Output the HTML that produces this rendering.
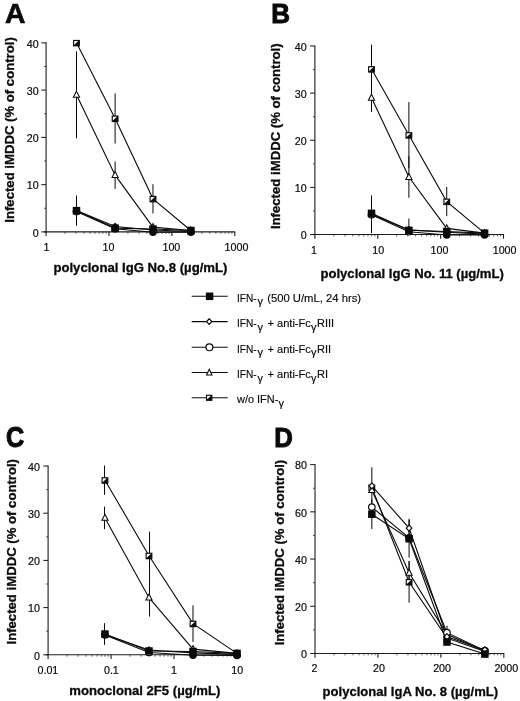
<!DOCTYPE html>
<html lang="en"><head><meta charset="utf-8"><title>Figure</title>
<style>
html,body{margin:0;padding:0;background:#fff}
svg{display:block;font-family:"Liberation Sans",Arial,Helvetica,sans-serif;fill:#0a0a0a}
.tk{stroke:#0a0a0a;stroke-width:0.2}
.bt{stroke:#0a0a0a;stroke-width:0.3}
.lg{stroke:#0a0a0a;stroke-width:0.15}
</style></head>
<body>
<svg width="520" height="701" viewBox="0 0 520 701">
<rect width="520" height="701" fill="#fff" stroke="none"/>
<text transform="translate(4.9 22.9) scale(1.07 1.075)" font-size="26.5" font-weight="700" stroke="#0a0a0a" stroke-width="0.6" stroke-linejoin="miter">A</text>
<path d="M46.1 42.36V232.40" stroke="#1c1c1c" stroke-width="1.1" fill="none"/>
<path d="M43.90 231.90H235.30" stroke="#1c1c1c" stroke-width="1.1" fill="none"/>
<path d="M41.30 231.90H46.1" stroke="#1c1c1c" stroke-width="1.05"/>
<text x="38.6" y="236.70" font-size="10.7" text-anchor="end" class="tk">0</text>
<path d="M41.30 184.64H46.1" stroke="#1c1c1c" stroke-width="1.05"/>
<text x="38.6" y="189.44" font-size="10.7" text-anchor="end" class="tk">10</text>
<path d="M41.30 137.38H46.1" stroke="#1c1c1c" stroke-width="1.05"/>
<text x="38.6" y="142.18" font-size="10.7" text-anchor="end" class="tk">20</text>
<path d="M41.30 90.12H46.1" stroke="#1c1c1c" stroke-width="1.05"/>
<text x="38.6" y="94.92" font-size="10.7" text-anchor="end" class="tk">30</text>
<path d="M41.30 42.86H46.1" stroke="#1c1c1c" stroke-width="1.05"/>
<text x="38.6" y="47.66" font-size="10.7" text-anchor="end" class="tk">40</text>
<path d="M44.20 208.27H46.1" stroke="#1c1c1c" stroke-width="0.8"/>
<path d="M44.20 161.01H46.1" stroke="#1c1c1c" stroke-width="0.8"/>
<path d="M44.20 113.75H46.1" stroke="#1c1c1c" stroke-width="0.8"/>
<path d="M44.20 66.49H46.1" stroke="#1c1c1c" stroke-width="0.8"/>
<path d="M46.10 231.90V236.10" stroke="#1c1c1c" stroke-width="1.1"/>
<text x="46.50" y="250.8" font-size="10.7" text-anchor="middle" class="tk">1</text>
<path d="M65.03 231.90V233.80" stroke="#1c1c1c" stroke-width="0.7"/>
<path d="M76.11 231.90V233.80" stroke="#1c1c1c" stroke-width="0.7"/>
<path d="M83.97 231.90V233.80" stroke="#1c1c1c" stroke-width="0.7"/>
<path d="M90.07 231.90V233.80" stroke="#1c1c1c" stroke-width="0.7"/>
<path d="M95.05 231.90V233.80" stroke="#1c1c1c" stroke-width="0.7"/>
<path d="M99.26 231.90V233.80" stroke="#1c1c1c" stroke-width="0.7"/>
<path d="M102.90 231.90V233.80" stroke="#1c1c1c" stroke-width="0.7"/>
<path d="M106.12 231.90V233.80" stroke="#1c1c1c" stroke-width="0.7"/>
<path d="M109.00 231.90V236.10" stroke="#1c1c1c" stroke-width="1.1"/>
<text x="108.50" y="250.8" font-size="10.7" text-anchor="middle" class="tk">10</text>
<path d="M127.93 231.90V233.80" stroke="#1c1c1c" stroke-width="0.7"/>
<path d="M139.01 231.90V233.80" stroke="#1c1c1c" stroke-width="0.7"/>
<path d="M146.87 231.90V233.80" stroke="#1c1c1c" stroke-width="0.7"/>
<path d="M152.97 231.90V233.80" stroke="#1c1c1c" stroke-width="0.7"/>
<path d="M157.95 231.90V233.80" stroke="#1c1c1c" stroke-width="0.7"/>
<path d="M162.16 231.90V233.80" stroke="#1c1c1c" stroke-width="0.7"/>
<path d="M165.80 231.90V233.80" stroke="#1c1c1c" stroke-width="0.7"/>
<path d="M169.02 231.90V233.80" stroke="#1c1c1c" stroke-width="0.7"/>
<path d="M171.90 231.90V236.10" stroke="#1c1c1c" stroke-width="1.1"/>
<text x="171.40" y="250.8" font-size="10.7" text-anchor="middle" class="tk">100</text>
<path d="M190.83 231.90V233.80" stroke="#1c1c1c" stroke-width="0.7"/>
<path d="M201.91 231.90V233.80" stroke="#1c1c1c" stroke-width="0.7"/>
<path d="M209.77 231.90V233.80" stroke="#1c1c1c" stroke-width="0.7"/>
<path d="M215.87 231.90V233.80" stroke="#1c1c1c" stroke-width="0.7"/>
<path d="M220.85 231.90V233.80" stroke="#1c1c1c" stroke-width="0.7"/>
<path d="M225.06 231.90V233.80" stroke="#1c1c1c" stroke-width="0.7"/>
<path d="M228.70 231.90V233.80" stroke="#1c1c1c" stroke-width="0.7"/>
<path d="M231.92 231.90V233.80" stroke="#1c1c1c" stroke-width="0.7"/>
<path d="M234.80 231.90V236.10" stroke="#1c1c1c" stroke-width="1.1"/>
<text x="236.50" y="250.8" font-size="10.7" text-anchor="middle" class="tk">1000</text>
<text x="53.4" y="272.4" font-size="13.3" font-weight="700" class="bt" textLength="174" lengthAdjust="spacingAndGlyphs">polyclonal IgG No.8 (µg/mL)</text>
<text transform="translate(13.8 222.7) rotate(-90)" font-size="13.3" font-weight="700" class="bt" textLength="185.5" lengthAdjust="spacingAndGlyphs">Infected iMDDC (% of control)</text>
<path d="M76.50 51.37V138.33" stroke="#0a0a0a" stroke-width="1.0"/>
<path d="M115.10 161.48V188.89" stroke="#0a0a0a" stroke-width="1.0"/>
<path d="M115.10 93.43V143.52" stroke="#0a0a0a" stroke-width="1.0"/>
<path d="M152.97 184.17V213.47" stroke="#0a0a0a" stroke-width="1.0"/>
<path d="M76.50 195.51V225.76" stroke="#0a0a0a" stroke-width="1.0"/>
<polyline points="76.47,211.58 115.10,228.83 152.97,232.18 190.83,232.18" fill="none" stroke="#0a0a0a" stroke-width="1.1"/>
<polyline points="76.47,210.40 115.10,226.47 152.97,230.01 190.83,231.43" fill="none" stroke="#0a0a0a" stroke-width="1.1"/>
<polyline points="76.47,94.85 115.10,175.19 152.97,227.17 190.83,230.48" fill="none" stroke="#0a0a0a" stroke-width="1.1"/>
<polyline points="76.47,42.86 115.10,118.48 152.97,198.82 190.83,230.48" fill="none" stroke="#0a0a0a" stroke-width="1.1"/>
<polyline points="76.47,210.63 115.10,228.12 152.97,229.06 190.83,230.48" fill="none" stroke="#0a0a0a" stroke-width="1.1"/>
<circle cx="76.47" cy="211.58" r="3.25" fill="#fff" stroke="#0a0a0a" stroke-width="1.2"/>
<circle cx="115.10" cy="228.83" r="3.25" fill="#fff" stroke="#0a0a0a" stroke-width="1.2"/>
<circle cx="152.97" cy="232.18" r="3.80" fill="#0a0a0a"/>
<circle cx="190.83" cy="232.18" r="3.80" fill="#0a0a0a"/>
<path d="M76.47 207.32L79.33 210.40L76.47 213.47L73.61 210.40Z" fill="#fff" stroke="#0a0a0a" stroke-width="1.2" stroke-linejoin="round"/>
<path d="M115.10 223.39L117.96 226.47L115.10 229.54L112.23 226.47Z" fill="#fff" stroke="#0a0a0a" stroke-width="1.2" stroke-linejoin="round"/>
<path d="M152.97 226.93L155.83 230.01L152.97 233.09L150.10 230.01Z" fill="#fff" stroke="#0a0a0a" stroke-width="1.2" stroke-linejoin="round"/>
<path d="M190.83 228.35L193.70 231.43L190.83 234.51L187.97 231.43Z" fill="#fff" stroke="#0a0a0a" stroke-width="1.2" stroke-linejoin="round"/>
<path d="M76.47 91.25L79.57 97.25L73.37 97.25Z" fill="#fff" stroke="#0a0a0a" stroke-width="1.05"/>
<path d="M115.10 171.59L118.20 177.59L112.00 177.59Z" fill="#fff" stroke="#0a0a0a" stroke-width="1.05"/>
<path d="M152.97 223.57L156.07 229.57L149.87 229.57Z" fill="#fff" stroke="#0a0a0a" stroke-width="1.05"/>
<path d="M190.83 226.88L193.93 232.88L187.73 232.88Z" fill="#fff" stroke="#0a0a0a" stroke-width="1.05"/>
<rect x="73.62" y="40.46" width="5.70" height="5.40" fill="#fff" stroke="#0a0a0a" stroke-width="1.15"/><path d="M79.32 40.06L79.32 45.86L73.22 45.86Z" fill="#0a0a0a"/>
<rect x="112.25" y="116.08" width="5.70" height="5.40" fill="#fff" stroke="#0a0a0a" stroke-width="1.15"/><path d="M117.95 115.68L117.95 121.48L111.85 121.48Z" fill="#0a0a0a"/>
<rect x="150.12" y="196.42" width="5.70" height="5.40" fill="#fff" stroke="#0a0a0a" stroke-width="1.15"/><path d="M155.82 196.02L155.82 201.82L149.72 201.82Z" fill="#0a0a0a"/>
<rect x="187.98" y="228.08" width="5.70" height="5.40" fill="#fff" stroke="#0a0a0a" stroke-width="1.15"/><path d="M193.68 227.68L193.68 233.48L187.58 233.48Z" fill="#0a0a0a"/>
<rect x="72.72" y="206.88" width="7.50" height="7.50" fill="#0a0a0a"/>
<rect x="111.35" y="224.37" width="7.50" height="7.50" fill="#0a0a0a"/>
<rect x="149.22" y="225.31" width="7.50" height="7.50" fill="#0a0a0a"/>
<rect x="187.08" y="226.73" width="7.50" height="7.50" fill="#0a0a0a"/>
<text transform="translate(271.3 22.7) scale(0.98 1.04)" font-size="26.5" font-weight="700" stroke="#0a0a0a" stroke-width="1.0" stroke-linejoin="miter">B</text>
<path d="M314.9 45.49V235.05" stroke="#1c1c1c" stroke-width="1.1" fill="none"/>
<path d="M312.70 234.55H504.00" stroke="#1c1c1c" stroke-width="1.1" fill="none"/>
<path d="M310.10 234.55H314.9" stroke="#1c1c1c" stroke-width="1.05"/>
<text x="306.6" y="239.35" font-size="10.7" text-anchor="end" class="tk">0</text>
<path d="M310.10 187.41H314.9" stroke="#1c1c1c" stroke-width="1.05"/>
<text x="306.6" y="192.21" font-size="10.7" text-anchor="end" class="tk">10</text>
<path d="M310.10 140.27H314.9" stroke="#1c1c1c" stroke-width="1.05"/>
<text x="306.6" y="145.07" font-size="10.7" text-anchor="end" class="tk">20</text>
<path d="M310.10 93.13H314.9" stroke="#1c1c1c" stroke-width="1.05"/>
<text x="306.6" y="97.93" font-size="10.7" text-anchor="end" class="tk">30</text>
<path d="M310.10 45.99H314.9" stroke="#1c1c1c" stroke-width="1.05"/>
<text x="306.6" y="50.79" font-size="10.7" text-anchor="end" class="tk">40</text>
<path d="M313.00 210.98H314.9" stroke="#1c1c1c" stroke-width="0.8"/>
<path d="M313.00 163.84H314.9" stroke="#1c1c1c" stroke-width="0.8"/>
<path d="M313.00 116.70H314.9" stroke="#1c1c1c" stroke-width="0.8"/>
<path d="M313.00 69.56H314.9" stroke="#1c1c1c" stroke-width="0.8"/>
<path d="M314.90 234.55V238.75" stroke="#1c1c1c" stroke-width="1.1"/>
<text x="314.00" y="253.7" font-size="10.7" text-anchor="middle" class="tk">1</text>
<path d="M333.82 234.55V236.45" stroke="#1c1c1c" stroke-width="0.7"/>
<path d="M344.90 234.55V236.45" stroke="#1c1c1c" stroke-width="0.7"/>
<path d="M352.75 234.55V236.45" stroke="#1c1c1c" stroke-width="0.7"/>
<path d="M358.84 234.55V236.45" stroke="#1c1c1c" stroke-width="0.7"/>
<path d="M363.82 234.55V236.45" stroke="#1c1c1c" stroke-width="0.7"/>
<path d="M368.03 234.55V236.45" stroke="#1c1c1c" stroke-width="0.7"/>
<path d="M371.67 234.55V236.45" stroke="#1c1c1c" stroke-width="0.7"/>
<path d="M374.89 234.55V236.45" stroke="#1c1c1c" stroke-width="0.7"/>
<path d="M377.77 234.55V238.75" stroke="#1c1c1c" stroke-width="1.1"/>
<text x="378.27" y="253.7" font-size="10.7" text-anchor="middle" class="tk">10</text>
<path d="M396.69 234.55V236.45" stroke="#1c1c1c" stroke-width="0.7"/>
<path d="M407.76 234.55V236.45" stroke="#1c1c1c" stroke-width="0.7"/>
<path d="M415.62 234.55V236.45" stroke="#1c1c1c" stroke-width="0.7"/>
<path d="M421.71 234.55V236.45" stroke="#1c1c1c" stroke-width="0.7"/>
<path d="M426.69 234.55V236.45" stroke="#1c1c1c" stroke-width="0.7"/>
<path d="M430.90 234.55V236.45" stroke="#1c1c1c" stroke-width="0.7"/>
<path d="M434.54 234.55V236.45" stroke="#1c1c1c" stroke-width="0.7"/>
<path d="M437.76 234.55V236.45" stroke="#1c1c1c" stroke-width="0.7"/>
<path d="M440.63 234.55V238.75" stroke="#1c1c1c" stroke-width="1.1"/>
<text x="439.43" y="253.7" font-size="10.7" text-anchor="middle" class="tk">100</text>
<path d="M459.56 234.55V236.45" stroke="#1c1c1c" stroke-width="0.7"/>
<path d="M470.63 234.55V236.45" stroke="#1c1c1c" stroke-width="0.7"/>
<path d="M478.48 234.55V236.45" stroke="#1c1c1c" stroke-width="0.7"/>
<path d="M484.58 234.55V236.45" stroke="#1c1c1c" stroke-width="0.7"/>
<path d="M489.55 234.55V236.45" stroke="#1c1c1c" stroke-width="0.7"/>
<path d="M493.76 234.55V236.45" stroke="#1c1c1c" stroke-width="0.7"/>
<path d="M497.41 234.55V236.45" stroke="#1c1c1c" stroke-width="0.7"/>
<path d="M500.62 234.55V236.45" stroke="#1c1c1c" stroke-width="0.7"/>
<path d="M503.50 234.55V238.75" stroke="#1c1c1c" stroke-width="1.1"/>
<text x="504.60" y="253.7" font-size="10.7" text-anchor="middle" class="tk">1000</text>
<text x="320.5" y="277.6" font-size="13.3" font-weight="700" class="bt" textLength="183.3" lengthAdjust="spacingAndGlyphs">polyclonal IgG No. 11 (µg/mL)</text>
<text transform="translate(280.0 229.1) rotate(-90)" font-size="13.3" font-weight="700" class="bt" textLength="185.75" lengthAdjust="spacingAndGlyphs">Infected iMDDC (% of control)</text>
<path d="M371.50 83.70V111.99" stroke="#0a0a0a" stroke-width="1.0"/>
<path d="M408.88 156.30V197.78" stroke="#0a0a0a" stroke-width="1.0"/>
<path d="M371.50 44.58V93.60" stroke="#0a0a0a" stroke-width="1.0"/>
<path d="M408.88 102.09V168.08" stroke="#0a0a0a" stroke-width="1.0"/>
<path d="M446.73 186.94V216.17" stroke="#0a0a0a" stroke-width="1.0"/>
<path d="M371.50 195.42V233.14" stroke="#0a0a0a" stroke-width="1.0"/>
<path d="M408.88 218.52V234.55" stroke="#0a0a0a" stroke-width="1.0"/>
<polyline points="371.50,214.75 408.88,231.72 446.73,235.02 484.58,235.02" fill="none" stroke="#0a0a0a" stroke-width="1.1"/>
<polyline points="371.50,214.28 408.88,229.84 446.73,232.19 484.58,234.08" fill="none" stroke="#0a0a0a" stroke-width="1.1"/>
<polyline points="371.50,97.84 408.88,177.04 446.73,228.42 484.58,233.14" fill="none" stroke="#0a0a0a" stroke-width="1.1"/>
<polyline points="371.50,69.09 408.88,135.08 446.73,201.55 484.58,233.14" fill="none" stroke="#0a0a0a" stroke-width="1.1"/>
<polyline points="371.50,213.34 408.88,230.31 446.73,231.49 484.58,233.14" fill="none" stroke="#0a0a0a" stroke-width="1.1"/>
<circle cx="371.50" cy="214.75" r="3.25" fill="#fff" stroke="#0a0a0a" stroke-width="1.2"/>
<circle cx="408.88" cy="231.72" r="3.25" fill="#fff" stroke="#0a0a0a" stroke-width="1.2"/>
<circle cx="446.73" cy="235.02" r="3.80" fill="#0a0a0a"/>
<circle cx="484.58" cy="235.02" r="3.80" fill="#0a0a0a"/>
<path d="M371.50 211.20L374.37 214.28L371.50 217.36L368.64 214.28Z" fill="#fff" stroke="#0a0a0a" stroke-width="1.2" stroke-linejoin="round"/>
<path d="M408.88 226.76L411.74 229.84L408.88 232.91L406.01 229.84Z" fill="#fff" stroke="#0a0a0a" stroke-width="1.2" stroke-linejoin="round"/>
<path d="M446.73 229.12L449.59 232.19L446.73 235.27L443.86 232.19Z" fill="#fff" stroke="#0a0a0a" stroke-width="1.2" stroke-linejoin="round"/>
<path d="M484.58 231.00L487.44 234.08L484.58 237.16L481.71 234.08Z" fill="#fff" stroke="#0a0a0a" stroke-width="1.2" stroke-linejoin="round"/>
<path d="M371.50 94.24L374.60 100.24L368.40 100.24Z" fill="#fff" stroke="#0a0a0a" stroke-width="1.05"/>
<path d="M408.88 173.44L411.98 179.44L405.78 179.44Z" fill="#fff" stroke="#0a0a0a" stroke-width="1.05"/>
<path d="M446.73 224.82L449.83 230.82L443.63 230.82Z" fill="#fff" stroke="#0a0a0a" stroke-width="1.05"/>
<path d="M484.58 229.54L487.68 235.54L481.48 235.54Z" fill="#fff" stroke="#0a0a0a" stroke-width="1.05"/>
<rect x="368.65" y="66.69" width="5.70" height="5.40" fill="#fff" stroke="#0a0a0a" stroke-width="1.15"/><path d="M374.35 66.29L374.35 72.09L368.25 72.09Z" fill="#0a0a0a"/>
<rect x="406.03" y="132.68" width="5.70" height="5.40" fill="#fff" stroke="#0a0a0a" stroke-width="1.15"/><path d="M411.73 132.28L411.73 138.08L405.63 138.08Z" fill="#0a0a0a"/>
<rect x="443.88" y="199.15" width="5.70" height="5.40" fill="#fff" stroke="#0a0a0a" stroke-width="1.15"/><path d="M449.58 198.75L449.58 204.55L443.48 204.55Z" fill="#0a0a0a"/>
<rect x="481.73" y="230.74" width="5.70" height="5.40" fill="#fff" stroke="#0a0a0a" stroke-width="1.15"/><path d="M487.43 230.34L487.43 236.14L481.33 236.14Z" fill="#0a0a0a"/>
<rect x="367.75" y="209.59" width="7.50" height="7.50" fill="#0a0a0a"/>
<rect x="405.13" y="226.56" width="7.50" height="7.50" fill="#0a0a0a"/>
<rect x="442.98" y="227.74" width="7.50" height="7.50" fill="#0a0a0a"/>
<rect x="480.83" y="229.39" width="7.50" height="7.50" fill="#0a0a0a"/>
<text transform="translate(6.0 447.0) scale(0.95 1.08)" font-size="26.5" font-weight="700" stroke="#0a0a0a" stroke-width="1.0" stroke-linejoin="miter">C</text>
<path d="M48.1 465.50V655.30" stroke="#1c1c1c" stroke-width="1.1" fill="none"/>
<path d="M45.90 654.80H237.50" stroke="#1c1c1c" stroke-width="1.1" fill="none"/>
<path d="M43.30 654.80H48.1" stroke="#1c1c1c" stroke-width="1.05"/>
<text x="39.9" y="659.60" font-size="10.7" text-anchor="end" class="tk">0</text>
<path d="M43.30 607.60H48.1" stroke="#1c1c1c" stroke-width="1.05"/>
<text x="39.9" y="612.40" font-size="10.7" text-anchor="end" class="tk">10</text>
<path d="M43.30 560.40H48.1" stroke="#1c1c1c" stroke-width="1.05"/>
<text x="39.9" y="565.20" font-size="10.7" text-anchor="end" class="tk">20</text>
<path d="M43.30 513.20H48.1" stroke="#1c1c1c" stroke-width="1.05"/>
<text x="39.9" y="518.00" font-size="10.7" text-anchor="end" class="tk">30</text>
<path d="M43.30 466.00H48.1" stroke="#1c1c1c" stroke-width="1.05"/>
<text x="39.9" y="470.80" font-size="10.7" text-anchor="end" class="tk">40</text>
<path d="M46.20 631.20H48.1" stroke="#1c1c1c" stroke-width="0.8"/>
<path d="M46.20 584.00H48.1" stroke="#1c1c1c" stroke-width="0.8"/>
<path d="M46.20 536.80H48.1" stroke="#1c1c1c" stroke-width="0.8"/>
<path d="M46.20 489.60H48.1" stroke="#1c1c1c" stroke-width="0.8"/>
<path d="M48.10 654.80V659.00" stroke="#1c1c1c" stroke-width="1.1"/>
<text x="47.90" y="673.7" font-size="10.7" text-anchor="middle" class="tk">0.01</text>
<path d="M67.05 654.80V656.70" stroke="#1c1c1c" stroke-width="0.7"/>
<path d="M78.14 654.80V656.70" stroke="#1c1c1c" stroke-width="0.7"/>
<path d="M86.01 654.80V656.70" stroke="#1c1c1c" stroke-width="0.7"/>
<path d="M92.11 654.80V656.70" stroke="#1c1c1c" stroke-width="0.7"/>
<path d="M97.10 654.80V656.70" stroke="#1c1c1c" stroke-width="0.7"/>
<path d="M101.31 654.80V656.70" stroke="#1c1c1c" stroke-width="0.7"/>
<path d="M104.96 654.80V656.70" stroke="#1c1c1c" stroke-width="0.7"/>
<path d="M108.19 654.80V656.70" stroke="#1c1c1c" stroke-width="0.7"/>
<path d="M111.07 654.80V659.00" stroke="#1c1c1c" stroke-width="1.1"/>
<text x="111.37" y="673.7" font-size="10.7" text-anchor="middle" class="tk">0.1</text>
<path d="M130.02 654.80V656.70" stroke="#1c1c1c" stroke-width="0.7"/>
<path d="M141.11 654.80V656.70" stroke="#1c1c1c" stroke-width="0.7"/>
<path d="M148.98 654.80V656.70" stroke="#1c1c1c" stroke-width="0.7"/>
<path d="M155.08 654.80V656.70" stroke="#1c1c1c" stroke-width="0.7"/>
<path d="M160.06 654.80V656.70" stroke="#1c1c1c" stroke-width="0.7"/>
<path d="M164.28 654.80V656.70" stroke="#1c1c1c" stroke-width="0.7"/>
<path d="M167.93 654.80V656.70" stroke="#1c1c1c" stroke-width="0.7"/>
<path d="M171.15 654.80V656.70" stroke="#1c1c1c" stroke-width="0.7"/>
<path d="M174.03 654.80V659.00" stroke="#1c1c1c" stroke-width="1.1"/>
<text x="174.03" y="673.7" font-size="10.7" text-anchor="middle" class="tk">1</text>
<path d="M192.99 654.80V656.70" stroke="#1c1c1c" stroke-width="0.7"/>
<path d="M204.08 654.80V656.70" stroke="#1c1c1c" stroke-width="0.7"/>
<path d="M211.94 654.80V656.70" stroke="#1c1c1c" stroke-width="0.7"/>
<path d="M218.05 654.80V656.70" stroke="#1c1c1c" stroke-width="0.7"/>
<path d="M223.03 654.80V656.70" stroke="#1c1c1c" stroke-width="0.7"/>
<path d="M227.25 654.80V656.70" stroke="#1c1c1c" stroke-width="0.7"/>
<path d="M230.90 654.80V656.70" stroke="#1c1c1c" stroke-width="0.7"/>
<path d="M234.12 654.80V656.70" stroke="#1c1c1c" stroke-width="0.7"/>
<path d="M237.00 654.80V659.00" stroke="#1c1c1c" stroke-width="1.1"/>
<text x="237.30" y="673.7" font-size="10.7" text-anchor="middle" class="tk">10</text>
<text x="69.3" y="694.7" font-size="13.3" font-weight="700" class="bt" textLength="151.1" lengthAdjust="spacingAndGlyphs">monoclonal 2F5 (µg/mL)</text>
<text transform="translate(15.6 644.5) rotate(-90)" font-size="13.3" font-weight="700" class="bt" textLength="185.5" lengthAdjust="spacingAndGlyphs">Infected iMDDC (% of control)</text>
<path d="M104.50 506.59V529.25" stroke="#0a0a0a" stroke-width="1.0"/>
<path d="M149.50 578.81V616.57" stroke="#0a0a0a" stroke-width="1.0"/>
<path d="M104.50 465.53V494.79" stroke="#0a0a0a" stroke-width="1.0"/>
<path d="M149.50 531.61V579.75" stroke="#0a0a0a" stroke-width="1.0"/>
<path d="M192.99 605.24V642.06" stroke="#0a0a0a" stroke-width="1.0"/>
<path d="M104.50 623.18V644.89" stroke="#0a0a0a" stroke-width="1.0"/>
<polyline points="104.96,634.98 148.98,652.44 192.99,655.27 237.00,655.51" fill="none" stroke="#0a0a0a" stroke-width="1.1"/>
<polyline points="104.96,634.50 148.98,650.08 192.99,652.91 237.00,654.33" fill="none" stroke="#0a0a0a" stroke-width="1.1"/>
<polyline points="104.96,517.92 148.98,597.69 192.99,649.14 237.00,653.38" fill="none" stroke="#0a0a0a" stroke-width="1.1"/>
<polyline points="104.96,480.16 148.98,555.68 192.99,623.65 237.00,653.38" fill="none" stroke="#0a0a0a" stroke-width="1.1"/>
<polyline points="104.96,634.03 148.98,651.02 192.99,651.50 237.00,653.38" fill="none" stroke="#0a0a0a" stroke-width="1.1"/>
<circle cx="104.96" cy="634.98" r="3.25" fill="#fff" stroke="#0a0a0a" stroke-width="1.2"/>
<circle cx="148.98" cy="652.44" r="3.25" fill="#fff" stroke="#0a0a0a" stroke-width="1.2"/>
<circle cx="192.99" cy="655.27" r="3.80" fill="#0a0a0a"/>
<circle cx="237.00" cy="655.51" r="3.80" fill="#0a0a0a"/>
<path d="M104.96 631.43L107.83 634.50L104.96 637.58L102.10 634.50Z" fill="#fff" stroke="#0a0a0a" stroke-width="1.2" stroke-linejoin="round"/>
<path d="M148.98 647.00L151.84 650.08L148.98 653.16L146.11 650.08Z" fill="#fff" stroke="#0a0a0a" stroke-width="1.2" stroke-linejoin="round"/>
<path d="M192.99 649.83L195.85 652.91L192.99 655.99L190.13 652.91Z" fill="#fff" stroke="#0a0a0a" stroke-width="1.2" stroke-linejoin="round"/>
<path d="M237.00 651.25L239.86 654.33L237.00 657.41L234.14 654.33Z" fill="#fff" stroke="#0a0a0a" stroke-width="1.2" stroke-linejoin="round"/>
<path d="M104.96 514.32L108.06 520.32L101.86 520.32Z" fill="#fff" stroke="#0a0a0a" stroke-width="1.05"/>
<path d="M148.98 594.09L152.08 600.09L145.88 600.09Z" fill="#fff" stroke="#0a0a0a" stroke-width="1.05"/>
<path d="M192.99 645.54L196.09 651.54L189.89 651.54Z" fill="#fff" stroke="#0a0a0a" stroke-width="1.05"/>
<path d="M237.00 649.78L240.10 655.78L233.90 655.78Z" fill="#fff" stroke="#0a0a0a" stroke-width="1.05"/>
<rect x="102.11" y="477.76" width="5.70" height="5.40" fill="#fff" stroke="#0a0a0a" stroke-width="1.15"/><path d="M107.81 477.36L107.81 483.16L101.71 483.16Z" fill="#0a0a0a"/>
<rect x="146.13" y="553.28" width="5.70" height="5.40" fill="#fff" stroke="#0a0a0a" stroke-width="1.15"/><path d="M151.83 552.88L151.83 558.68L145.73 558.68Z" fill="#0a0a0a"/>
<rect x="190.14" y="621.25" width="5.70" height="5.40" fill="#fff" stroke="#0a0a0a" stroke-width="1.15"/><path d="M195.84 620.85L195.84 626.65L189.74 626.65Z" fill="#0a0a0a"/>
<rect x="234.15" y="650.98" width="5.70" height="5.40" fill="#fff" stroke="#0a0a0a" stroke-width="1.15"/><path d="M239.85 650.58L239.85 656.38L233.75 656.38Z" fill="#0a0a0a"/>
<rect x="101.21" y="630.28" width="7.50" height="7.50" fill="#0a0a0a"/>
<rect x="145.23" y="647.27" width="7.50" height="7.50" fill="#0a0a0a"/>
<rect x="189.24" y="647.75" width="7.50" height="7.50" fill="#0a0a0a"/>
<rect x="233.25" y="649.63" width="7.50" height="7.50" fill="#0a0a0a"/>
<text transform="translate(274.3 446.7) scale(0.97 1.065)" font-size="26.5" font-weight="700" stroke="#0a0a0a" stroke-width="1.0" stroke-linejoin="miter">D</text>
<path d="M315.0 464.12V654.00" stroke="#1c1c1c" stroke-width="1.1" fill="none"/>
<path d="M312.80 653.50H504.30" stroke="#1c1c1c" stroke-width="1.1" fill="none"/>
<path d="M310.20 653.50H315.0" stroke="#1c1c1c" stroke-width="1.05"/>
<text x="306.9" y="658.30" font-size="10.7" text-anchor="end" class="tk">0</text>
<path d="M310.20 606.28H315.0" stroke="#1c1c1c" stroke-width="1.05"/>
<text x="306.9" y="611.08" font-size="10.7" text-anchor="end" class="tk">20</text>
<path d="M310.20 559.06H315.0" stroke="#1c1c1c" stroke-width="1.05"/>
<text x="306.9" y="563.86" font-size="10.7" text-anchor="end" class="tk">40</text>
<path d="M310.20 511.84H315.0" stroke="#1c1c1c" stroke-width="1.05"/>
<text x="306.9" y="516.64" font-size="10.7" text-anchor="end" class="tk">60</text>
<path d="M310.20 464.62H315.0" stroke="#1c1c1c" stroke-width="1.05"/>
<text x="306.9" y="469.42" font-size="10.7" text-anchor="end" class="tk">80</text>
<path d="M313.10 629.89H315.0" stroke="#1c1c1c" stroke-width="0.8"/>
<path d="M313.10 582.67H315.0" stroke="#1c1c1c" stroke-width="0.8"/>
<path d="M313.10 535.45H315.0" stroke="#1c1c1c" stroke-width="0.8"/>
<path d="M313.10 488.23H315.0" stroke="#1c1c1c" stroke-width="0.8"/>
<path d="M315.00 653.50V657.70" stroke="#1c1c1c" stroke-width="1.1"/>
<text x="314.40" y="672.2" font-size="10.7" text-anchor="middle" class="tk">2</text>
<path d="M333.94 653.50V655.40" stroke="#1c1c1c" stroke-width="0.7"/>
<path d="M345.03 653.50V655.40" stroke="#1c1c1c" stroke-width="0.7"/>
<path d="M352.89 653.50V655.40" stroke="#1c1c1c" stroke-width="0.7"/>
<path d="M358.99 653.50V655.40" stroke="#1c1c1c" stroke-width="0.7"/>
<path d="M363.97 653.50V655.40" stroke="#1c1c1c" stroke-width="0.7"/>
<path d="M368.18 653.50V655.40" stroke="#1c1c1c" stroke-width="0.7"/>
<path d="M371.83 653.50V655.40" stroke="#1c1c1c" stroke-width="0.7"/>
<path d="M375.05 653.50V655.40" stroke="#1c1c1c" stroke-width="0.7"/>
<path d="M377.93 653.50V657.70" stroke="#1c1c1c" stroke-width="1.1"/>
<text x="378.93" y="672.2" font-size="10.7" text-anchor="middle" class="tk">20</text>
<path d="M396.88 653.50V655.40" stroke="#1c1c1c" stroke-width="0.7"/>
<path d="M407.96 653.50V655.40" stroke="#1c1c1c" stroke-width="0.7"/>
<path d="M415.82 653.50V655.40" stroke="#1c1c1c" stroke-width="0.7"/>
<path d="M421.92 653.50V655.40" stroke="#1c1c1c" stroke-width="0.7"/>
<path d="M426.90 653.50V655.40" stroke="#1c1c1c" stroke-width="0.7"/>
<path d="M431.12 653.50V655.40" stroke="#1c1c1c" stroke-width="0.7"/>
<path d="M434.77 653.50V655.40" stroke="#1c1c1c" stroke-width="0.7"/>
<path d="M437.99 653.50V655.40" stroke="#1c1c1c" stroke-width="0.7"/>
<path d="M440.87 653.50V657.70" stroke="#1c1c1c" stroke-width="1.1"/>
<text x="442.07" y="672.2" font-size="10.7" text-anchor="middle" class="tk">200</text>
<path d="M459.81 653.50V655.40" stroke="#1c1c1c" stroke-width="0.7"/>
<path d="M470.89 653.50V655.40" stroke="#1c1c1c" stroke-width="0.7"/>
<path d="M478.76 653.50V655.40" stroke="#1c1c1c" stroke-width="0.7"/>
<path d="M484.86 653.50V655.40" stroke="#1c1c1c" stroke-width="0.7"/>
<path d="M489.84 653.50V655.40" stroke="#1c1c1c" stroke-width="0.7"/>
<path d="M494.05 653.50V655.40" stroke="#1c1c1c" stroke-width="0.7"/>
<path d="M497.70 653.50V655.40" stroke="#1c1c1c" stroke-width="0.7"/>
<path d="M500.92 653.50V655.40" stroke="#1c1c1c" stroke-width="0.7"/>
<path d="M503.80 653.50V657.70" stroke="#1c1c1c" stroke-width="1.1"/>
<text x="506.30" y="672.2" font-size="10.7" text-anchor="middle" class="tk">2000</text>
<text x="322.6" y="696.0" font-size="13.3" font-weight="700" class="bt" textLength="175.5" lengthAdjust="spacingAndGlyphs">polyclonal IgA No. 8 (µg/mL)</text>
<text transform="translate(284.45 645.35) rotate(-90)" font-size="13.3" font-weight="700" class="bt" textLength="185.55" lengthAdjust="spacingAndGlyphs">Infected iMDDC (% of control)</text>
<path d="M409.08 561.18V602.74" stroke="#0a0a0a" stroke-width="1.0"/>
<path d="M409.08 560.95V584.56" stroke="#0a0a0a" stroke-width="1.0"/>
<path d="M446.97 625.64V639.81" stroke="#0a0a0a" stroke-width="1.0"/>
<path d="M371.83 467.22V504.52" stroke="#0a0a0a" stroke-width="1.0"/>
<path d="M409.08 518.69V537.57" stroke="#0a0a0a" stroke-width="1.0"/>
<path d="M371.83 499.33V529.08" stroke="#0a0a0a" stroke-width="1.0"/>
<path d="M409.08 519.87V557.64" stroke="#0a0a0a" stroke-width="1.0"/>
<polyline points="371.83,487.52 409.08,581.96 446.97,638.15 484.86,651.38" fill="none" stroke="#0a0a0a" stroke-width="1.1"/>
<polyline points="371.83,490.12 409.08,572.75 446.97,634.61 484.86,650.90" fill="none" stroke="#0a0a0a" stroke-width="1.1"/>
<polyline points="371.83,507.12 409.08,537.81 446.97,632.72 484.86,650.67" fill="none" stroke="#0a0a0a" stroke-width="1.1"/>
<polyline points="371.83,485.87 409.08,528.13 446.97,636.74 484.86,649.96" fill="none" stroke="#0a0a0a" stroke-width="1.1"/>
<polyline points="371.83,514.20 409.08,538.76 446.97,642.05 484.86,654.09" fill="none" stroke="#0a0a0a" stroke-width="1.1"/>
<rect x="368.98" y="485.12" width="5.70" height="5.40" fill="#fff" stroke="#0a0a0a" stroke-width="1.15"/><path d="M374.68 484.72L374.68 490.52L368.58 490.52Z" fill="#0a0a0a"/>
<rect x="406.23" y="579.56" width="5.70" height="5.40" fill="#fff" stroke="#0a0a0a" stroke-width="1.15"/><path d="M411.93 579.16L411.93 584.96L405.83 584.96Z" fill="#0a0a0a"/>
<rect x="444.12" y="635.75" width="5.70" height="5.40" fill="#fff" stroke="#0a0a0a" stroke-width="1.15"/><path d="M449.82 635.35L449.82 641.15L443.72 641.15Z" fill="#0a0a0a"/>
<rect x="482.01" y="648.98" width="5.70" height="5.40" fill="#fff" stroke="#0a0a0a" stroke-width="1.15"/><path d="M487.71 648.58L487.71 654.38L481.61 654.38Z" fill="#0a0a0a"/>
<path d="M371.83 486.52L374.93 492.52L368.73 492.52Z" fill="#fff" stroke="#0a0a0a" stroke-width="1.05"/>
<path d="M409.08 569.15L412.18 575.15L405.98 575.15Z" fill="#fff" stroke="#0a0a0a" stroke-width="1.05"/>
<path d="M446.97 631.01L450.07 637.01L443.87 637.01Z" fill="#fff" stroke="#0a0a0a" stroke-width="1.05"/>
<path d="M484.86 647.30L487.96 653.30L481.76 653.30Z" fill="#fff" stroke="#0a0a0a" stroke-width="1.05"/>
<circle cx="371.83" cy="507.12" r="3.25" fill="#fff" stroke="#0a0a0a" stroke-width="1.2"/>
<circle cx="409.08" cy="537.81" r="3.25" fill="#fff" stroke="#0a0a0a" stroke-width="1.2"/>
<circle cx="446.97" cy="632.72" r="3.25" fill="#fff" stroke="#0a0a0a" stroke-width="1.2"/>
<circle cx="484.86" cy="650.67" r="3.25" fill="#fff" stroke="#0a0a0a" stroke-width="1.2"/>
<path d="M371.83 482.79L374.70 485.87L371.83 488.95L368.97 485.87Z" fill="#fff" stroke="#0a0a0a" stroke-width="1.2" stroke-linejoin="round"/>
<path d="M409.08 525.05L411.94 528.13L409.08 531.21L406.21 528.13Z" fill="#fff" stroke="#0a0a0a" stroke-width="1.2" stroke-linejoin="round"/>
<path d="M446.97 633.66L449.83 636.74L446.97 639.81L444.10 636.74Z" fill="#fff" stroke="#0a0a0a" stroke-width="1.2" stroke-linejoin="round"/>
<path d="M484.86 646.88L487.72 649.96L484.86 653.04L481.99 649.96Z" fill="#fff" stroke="#0a0a0a" stroke-width="1.2" stroke-linejoin="round"/>
<rect x="368.08" y="510.45" width="7.50" height="7.50" fill="#0a0a0a"/>
<rect x="405.33" y="535.01" width="7.50" height="7.50" fill="#0a0a0a"/>
<rect x="443.22" y="638.30" width="7.50" height="7.50" fill="#0a0a0a"/>
<rect x="481.11" y="650.34" width="7.50" height="7.50" fill="#0a0a0a"/>
<path d="M191.7 296.3H227.7" stroke="#0a0a0a" stroke-width="1.1"/>
<rect x="205.85" y="292.55" width="7.50" height="7.50" fill="#0a0a0a"/>
<text x="237.0" y="301.70" font-size="11" class="lg" textLength="19.7" lengthAdjust="spacingAndGlyphs">IFN-</text>
<text x="257.4" y="305.40" font-size="11" class="lg">γ</text>
<text x="267.2" y="301.70" font-size="11" class="lg" textLength="93.9" lengthAdjust="spacingAndGlyphs">(500 U/mL, 24 hrs)</text>
<path d="M191.7 321.6H227.7" stroke="#0a0a0a" stroke-width="1.1"/>
<path d="M209.20 318.75L211.85 321.60L209.20 324.45L206.55 321.60Z" fill="#fff" stroke="#0a0a0a" stroke-width="1.2" stroke-linejoin="round"/>
<text x="237.0" y="327.00" font-size="11" class="lg" textLength="19.7" lengthAdjust="spacingAndGlyphs">IFN-</text>
<text x="257.4" y="330.70" font-size="11" class="lg">γ</text>
<text x="267.4" y="327.00" font-size="11" class="lg" textLength="43.5" lengthAdjust="spacingAndGlyphs">+ anti-Fc</text>
<text x="310.9" y="330.70" font-size="11" class="lg">γ</text>
<text x="317.0" y="327.00" font-size="11" class="lg">RIII</text>
<path d="M191.7 347.3H227.7" stroke="#0a0a0a" stroke-width="1.1"/>
<circle cx="209.40" cy="347.30" r="3.45" fill="#fff" stroke="#0a0a0a" stroke-width="1.2"/>
<text x="237.0" y="352.70" font-size="11" class="lg" textLength="19.7" lengthAdjust="spacingAndGlyphs">IFN-</text>
<text x="257.4" y="356.40" font-size="11" class="lg">γ</text>
<text x="267.4" y="352.70" font-size="11" class="lg" textLength="43.5" lengthAdjust="spacingAndGlyphs">+ anti-Fc</text>
<text x="310.9" y="356.40" font-size="11" class="lg">γ</text>
<text x="317.0" y="352.70" font-size="11" class="lg">RII</text>
<path d="M191.7 372.5H227.7" stroke="#0a0a0a" stroke-width="1.1"/>
<path d="M209.30 369.20L212.05 375.05L206.55 375.05Z" fill="#fff" stroke="#0a0a0a" stroke-width="1.05"/>
<text x="237.0" y="377.90" font-size="11" class="lg" textLength="19.7" lengthAdjust="spacingAndGlyphs">IFN-</text>
<text x="257.4" y="381.60" font-size="11" class="lg">γ</text>
<text x="267.4" y="377.90" font-size="11" class="lg" textLength="43.5" lengthAdjust="spacingAndGlyphs">+ anti-Fc</text>
<text x="310.9" y="381.60" font-size="11" class="lg">γ</text>
<text x="317.0" y="377.90" font-size="11" class="lg">RI</text>
<path d="M191.7 397.8H227.7" stroke="#0a0a0a" stroke-width="1.1"/>
<rect x="206.55" y="395.29" width="5.30" height="5.02" fill="#fff" stroke="#0a0a0a" stroke-width="1.15"/><path d="M211.85 394.89L211.85 400.31L206.15 400.31Z" fill="#0a0a0a"/>
<text x="237.0" y="403.20" font-size="11" class="lg" textLength="41.3" lengthAdjust="spacingAndGlyphs">w/o IFN-</text>
<text x="278.4" y="406.90" font-size="11" class="lg">γ</text>
</svg>
</body></html>
